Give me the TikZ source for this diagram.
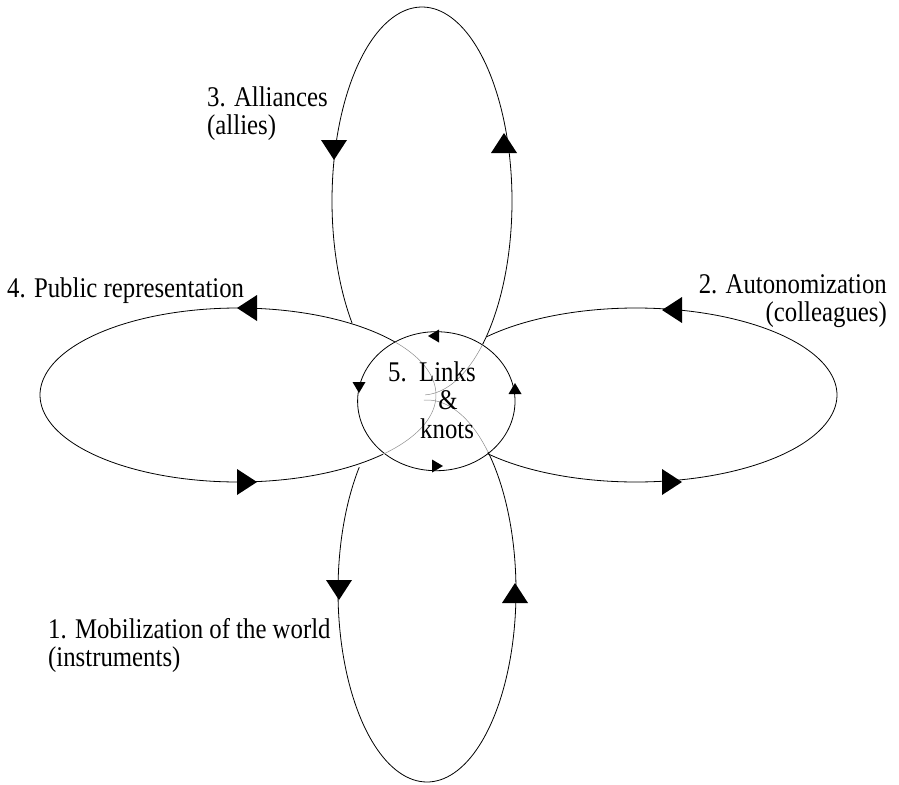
\documentclass[tikz,border=0pt]{standalone}
\usepackage{fontspec}
\setmainfont{Liberation Serif}
\newfontfamily\lblfont[FakeStretch=0.87]{Liberation Serif}
\begin{document}
\begin{tikzpicture}[x=1pt,y=-1pt,
  loopline/.style={line width=0.8pt, black},
  innerline/.style={line width=0.5pt, black!45},
  lbl/.style={inner sep=0pt, font=\lblfont\fontsize{28.5}{25}\selectfont},
  bigtip/.style={fill=black},
  smalltip/.style={fill=black}]
\useasboundingbox (0,0) rectangle (899,784);
% central circle
\draw[loopline] (436.3,401.2) ellipse [x radius=78.7, y radius=69.5];
% left loop (4)
\draw[loopline] plot[domain=43:322.5, samples=120, smooth] ({238+198*cos(\x)},{395+87*sin(\x)});
\draw[innerline] plot[domain=-37.5:43, samples=40, smooth] ({238+198*cos(\x)},{395+87*sin(\x)});
% top loop (3)
\draw[loopline] plot[domain=-219:47.7, samples=120, smooth] ({422+90*cos(\x)},{201+194*sin(\x)});
\draw[innerline] plot[domain=47.7:88, samples=30, smooth] ({422+90*cos(\x)},{201+194*sin(\x)});
% right loop (2)
\draw[loopline] plot[domain=-138:137.5, samples=120, smooth] ({636+201*cos(\x)},{395+87*sin(\x)});
% bottom loop (1)
\draw[loopline] plot[domain=-46.7:220.4, samples=120, smooth] ({427+89*cos(\x)},{591+191*sin(\x)});
\draw[innerline] plot[domain=-92:-46.7, samples=30, smooth] ({427+89*cos(\x)},{591+191*sin(\x)});
% big arrowheads (tip at shift point)
\foreach \px/\py/\ang in {334/160/270, 504/133/90, 237/308/180, 257/482/0, 662/310/180, 682/482/0, 339/600/270, 515/583/90}
  \fill[bigtip, shift={(\px,\py)}, rotate=\ang] (0pt,0pt) -- (-20pt,13pt) -- (-20pt,-13pt) -- cycle;
% small arrowheads on circle
\foreach \px/\py/\ang in {428/336/180, 359/393/270, 443/466/0, 515/383/90}
  \fill[smalltip, shift={(\px,\py)}, rotate=\ang] (0pt,0pt) -- (-11pt,6.5pt) -- (-11pt,-6.5pt) -- cycle;
% labels
\node[lbl, anchor=base west] (t3a) at (207,106) {3. Alliances};
\node[lbl, anchor=base west] (t3b) at (207,134) {(allies)};
\node[lbl, anchor=base west] (t4) at (7,297) {4. Public representation};
\node[lbl, anchor=base east] (t2a) at (887,293) {2. Autonomization};
\node[lbl, anchor=base east] (t2b) at (887,321) {(colleagues)};
\node[lbl, anchor=base west] (t1a) at (48,638) {1. Mobilization of the world};
\node[lbl, anchor=base west] (t1b) at (48,666) {(instruments)};
\node[lbl, anchor=base west] (t5a) at (388,381) {5.\ \ Links};
\node[lbl, anchor=base] (t5b) at (448,409) {\&};
\node[lbl, anchor=base west] (t5c) at (420,438) {knots};
\end{tikzpicture}
\end{document}
